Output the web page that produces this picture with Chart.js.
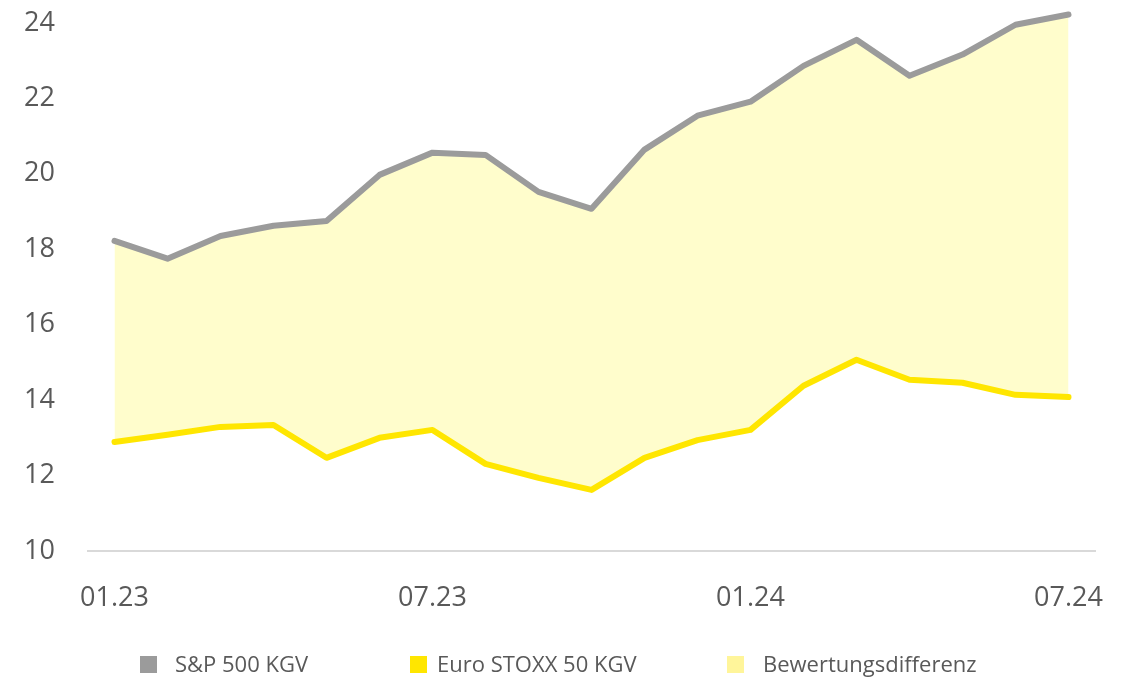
<!DOCTYPE html>
<html>
<head>
<meta charset="utf-8">
<script src="https://cdn.jsdelivr.net/npm/chart.js@4.4.1/dist/chart.umd.min.js"></script>
<style>
  html, body { margin: 0; padding: 0; background: #ffffff; }
  #wrap { position: relative; width: 1138px; height: 677px; }
  #c { position: absolute; left: 0; top: 0; }
  .leg { position: absolute; top: 651px; font-family: "Open Sans", sans-serif; font-size: 22px; color: #595959; line-height: 24px; white-space: nowrap; }
  .leg span.sw { display: inline-block; width: 17px; height: 17px; vertical-align: -1px; margin-right: 18px; }
</style>
</head>
<body>
<div id="wrap">
  <canvas id="c" width="1138" height="677"></canvas>
  <div class="leg" style="left:140px"><span class="sw" style="background:#9B9B9B"></span>S&amp;P 500 KGV</div>
  <div class="leg" style="left:410px"><span class="sw" style="background:#FFE600;margin-right:10px"></span>Euro STOXX 50 KGV</div>
  <div class="leg" style="left:727px"><span class="sw" style="background:#FFF59A;margin-right:19px"></span>Bewertungsdifferenz</div>
</div>
<script>
const categories = ["01.23","02.23","03.23","04.23","05.23","06.23","07.23","08.23","09.23","10.23","11.23","12.23","01.24","02.24","03.24","04.24","05.24","06.24","07.24"];
const sp500 = [18.22,17.75,18.35,18.62,18.75,19.97,20.56,20.50,19.52,19.07,20.64,21.54,21.91,22.86,23.55,22.60,23.16,23.95,24.22];
const eurostoxx = [12.89,13.08,13.29,13.34,12.47,13.00,13.21,12.31,11.94,11.62,12.47,12.94,13.21,14.38,15.07,14.54,14.46,14.14,14.08];
const yTicks = [10,12,14,16,18,20,22,24];

new Chart(document.getElementById('c'), {
  type: 'line',
  data: {
    labels: categories,
    datasets: [
      { label: 'Euro STOXX 50 KGV', data: eurostoxx, borderColor: '#FFE600', borderWidth: 6, pointRadius: 0, fill: false, tension: 0, borderCapStyle: 'round', borderJoinStyle: 'round', order: 0, clip: false },
      { label: 'S&P 500 KGV', data: sp500, borderColor: '#9B9B9B', borderWidth: 6, pointRadius: 0, fill: false, tension: 0, borderCapStyle: 'round', borderJoinStyle: 'round', order: 1, clip: false },
      { label: 'Bewertungsdifferenz', data: sp500, borderWidth: 0, borderColor: 'rgba(0,0,0,0)', backgroundColor: '#FFFDCC', pointRadius: 0, fill: 0, tension: 0, order: 2, clip: false }
    ]
  },
  options: {
    responsive: false,
    animation: false,
    layout: { padding: { left: 0, right: 43, top: 4, bottom: 56 } },
    plugins: { legend: { display: false }, tooltip: { enabled: false } },
    scales: {
      x: {
        type: 'category',
        offset: true,
        grid: { display: false, drawTicks: false },
        border: { display: true, color: '#D9D9D9', width: 2 },
        ticks: {
          autoSkip: false, maxRotation: 0, padding: 31,
          color: '#595959', font: { family: 'Open Sans', size: 27 },
          callback: function(v, i) { return i % 6 === 0 ? categories[i] : ''; }
        },
        afterFit: function(s) { s.height = 70; s.paddingLeft = 0; s.paddingRight = 0; }
      },
      y: {
        min: 10, max: 24.5,
        grid: { display: false, drawTicks: false },
        border: { display: false },
        afterBuildTicks: function(s) { s.ticks = yTicks.map(v => ({ value: v })); },
        ticks: { padding: 33, color: '#595959', font: { family: 'Open Sans', size: 27 } },
        afterFit: function(s) { s.width = 88; s.paddingTop = 0; s.paddingBottom = 0; }
      }
    }
  }
});
</script>
</body>
</html>
